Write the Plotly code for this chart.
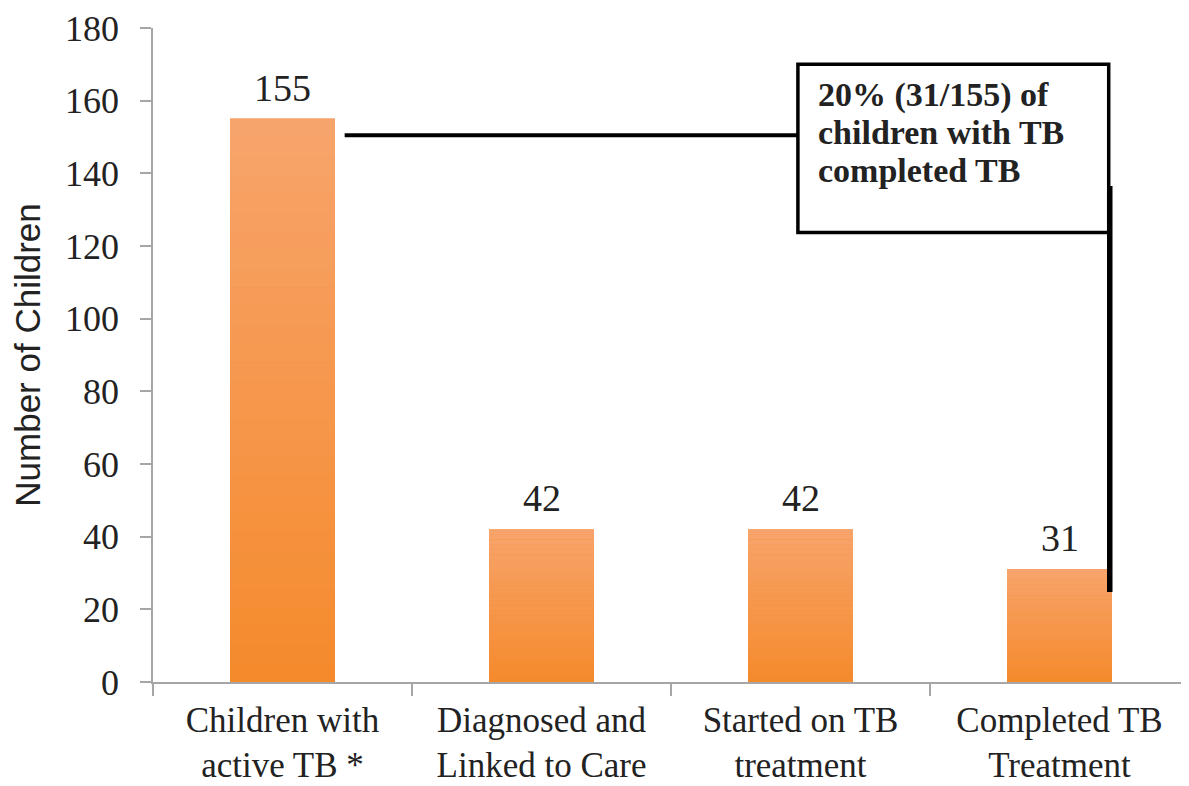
import plotly.graph_objects as go

categories = ["Children with<br>active TB *", "Diagnosed and<br>Linked to Care",
              "Started on TB<br>treatment", "Completed TB<br>Treatment"]
values = [155, 42, 42, 31]
y_ticks = [0, 20, 40, 60, 80, 100, 120, 140, 160, 180]
note_lines = ["20% (31/155) of", "children with TB", "completed TB"]

SERIF = "Liberation Serif"
top_rgb = (247, 164, 108)
bot_rgb = (245, 138, 44)
N = 30

fig = go.Figure()
fig.add_trace(go.Bar(x=categories, y=values,
                     marker=dict(color="rgb(245,138,44)", line=dict(width=0)),
                     width=0.405, hoverinfo="skip"))
for k in range(N):
    t = (k + 0.5) / N
    c = tuple(round(bot_rgb[i] + (top_rgb[i] - bot_rgb[i]) * t) for i in range(3))
    fig.add_trace(go.Bar(x=categories, y=[v / N * 1.02 for v in values],
                         base=[v * k / N for v in values],
                         marker=dict(color="rgb(%d,%d,%d)" % c, line=dict(width=0)),
                         width=0.405, hoverinfo="skip"))
fig.add_trace(go.Bar(x=categories, y=[v / N for v in values],
                     base=[v * (N - 1) / N for v in values],
                     marker=dict(color="rgb(%d,%d,%d)" % top_rgb, line=dict(width=0)),
                     width=0.405, hoverinfo="skip"))

# value labels
for cat, v in zip(categories, values):
    fig.add_annotation(x=cat, y=v, text=str(v), showarrow=False, yanchor="middle",
                       yshift=31, font=dict(family=SERIF, size=38, color="#222222"))

# callout
fig.add_shape(type="line", x0=0.24, x1=1.99, y0=150.5, y1=150.5,
              line=dict(color="black", width=4))
fig.add_shape(type="rect", x0=1.99, x1=3.19, y0=123.7, y1=170,
              line=dict(color="black", width=3.5), fillcolor="white")
fig.add_shape(type="line", x0=3.194, x1=3.194, y0=136.5, y1=24.8,
              line=dict(color="black", width=5.5))
for line_text, yy in zip(note_lines, [161.5, 151.2, 140.9]):
    fig.add_annotation(x=2.06, y=yy, xref="x", yref="y", text="<b>" + line_text + "</b>",
                       showarrow=False, xanchor="left", yanchor="middle", align="left",
                       font=dict(family=SERIF, size=34, color="#222222"))

fig.update_layout(
    width=1181, height=778, barmode="overlay", showlegend=False,
    paper_bgcolor="white", plot_bgcolor="white",
    margin=dict(l=145, r=0, t=20, b=104),
)
fig.update_xaxes(type="category", range=[-0.5, 3.5], showline=True, linecolor="#A6A6A6",
                 linewidth=1.5, ticks="outside", tickson="boundaries", ticklen=12,
                 tickcolor="#A6A6A6", tickwidth=1.5, showgrid=False, ticklabelstandoff=6,
                 tickfont=dict(family=SERIF, size=35, color="#222222"))
fig.update_yaxes(range=[0, 180], tickvals=y_ticks, showline=True, linecolor="#A6A6A6",
                 linewidth=1.5, ticks="outside", ticklen=11, tickcolor="#A6A6A6",
                 tickwidth=1.5, showgrid=False, zeroline=False, ticklabelstandoff=14,
                 tickfont=dict(family=SERIF, size=36, color="#222222"),
                 title=dict(text="Number of Children", standoff=14,
                            font=dict(family="Liberation Sans", size=35, color="#222222")))

fig.write_html("out.html")
